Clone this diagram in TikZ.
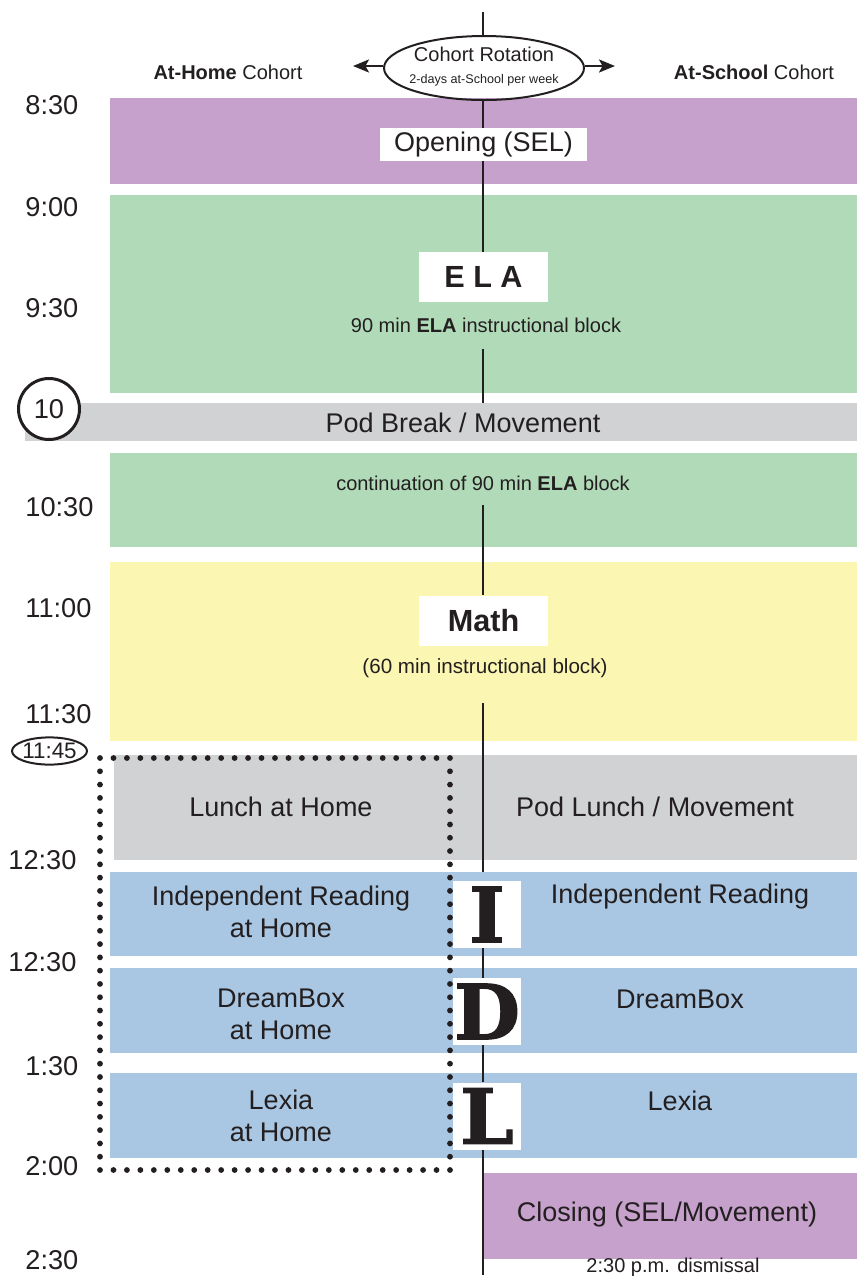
\documentclass[tikz,border=0pt]{standalone}
\usepackage{fontspec}
\setmainfont{Liberation Sans}
\newfontfamily\slabfont[BoldFeatures={FakeBold=1.6}]{DejaVu Serif}
\usetikzlibrary{arrows.meta, shapes.geometric}
\definecolor{selColor}{HTML}{C6A1CC}
\definecolor{elaColor}{HTML}{B0DAB8}
\definecolor{breakColor}{HTML}{D1D2D4}
\definecolor{mathColor}{HTML}{FBF6B2}
\definecolor{idlColor}{HTML}{A9C7E3}
\definecolor{inkColor}{HTML}{231F20}

\begin{document}
\begin{tikzpicture}[x=0.5pt, y=-0.5pt, inkColor, >={Stealth[length=8pt, width=6.5pt, inset=1.8pt]},
	lbl/.style={font=\fontsize{13.5}{16}\selectfont, inner sep=0pt, align=center},
	sublbl/.style={font=\fontsize{10}{12}\selectfont, inner sep=0pt},
	timelbl/.style={font=\fontsize{13.6}{16}\selectfont, inner sep=0pt, anchor=west},
	headlbl/.style={font=\fontsize{10}{11}\selectfont, inner sep=0pt},
	whitebox/.style={fill=white, inner sep=0pt, minimum width=64.5pt, minimum height=25pt, font=\bfseries\fontsize{15.3}{17}\selectfont},
	letterbox/.style={fill=white, inner sep=0pt, minimum width=34pt, minimum height=33.5pt, font=\slabfont\bfseries\fontsize{38}{38}\selectfont},
	spine/.style={line width=1.2pt},
	dot/.style={fill=inkColor}
	]
	
	% --- frame ---
	\useasboundingbox (0,0) rectangle (857,1276);
	
	% --- time bands ---
	\foreach \band/\bandcol/\xa/\ya/\yb in {
		opening/selColor/110/98/184,
		ela/elaColor/110/195/393,
		podbreak/breakColor/25/403/441,
		elacont/elaColor/110/453/547,
		math/mathColor/110/562/741,
		lunch/breakColor/114/755/860,
		iread/idlColor/110/872/956,
		dream/idlColor/110/968/1053,
		lexia/idlColor/110/1073/1158,
		closing/selColor/484/1173/1259
	} {
		\fill[\bandcol] (\xa,\ya) coordinate (\band-nw) rectangle (857,\yb);
	}
	
	% --- header ---
	\node[headlbl] (homehead) at (228,72) {\textbf{At-Home} Cohort};
	\node[headlbl] (schoolhead) at (754,72) {\textbf{At-School} Cohort};
	\node[ellipse, draw, line width=1pt, minimum width=100pt, minimum height=32pt, inner sep=0pt] (rot) at (484,68) {};
	\node[inner sep=0pt, align=center] (rottxt) at (484,67) {{\fontsize{10}{11.5}\selectfont Cohort Rotation}\\[-1pt]{\fontsize{6.3}{7.5}\selectfont 2-days at-School per week}};
	\coordinate (rotleft) at (353,66);
	\coordinate (rotright) at (615,66);
	\draw[->, line width=1.2pt] (rot.west |- rotleft) -- (rotleft);
	\draw[->, line width=1.2pt] (rot.east |- rotright) -- (rotright);
	
	% --- times ---
	\foreach \t/\tx/\ty in {8:30/25/105, 9:00/25/207, 9:30/25/308, 10:30/25/507, 11:00/25/608,
		11:30/25/714, 12:30/8/860, 12:30/8/962, 1:30/25/1066, 2:00/25/1166, 2:30/25/1260} {
		\node[timelbl] at (\tx,\ty) {\t};
	}
	
	% --- block labels ---
	\node[lbl, fill=white, minimum width=103.5pt, minimum height=16.5pt] (openlbl) at (483.5,144.5) {Opening (SEL)};
	\node[whitebox] (elabox) at (483.5,277) {E L A};
	\node[sublbl, minimum height=23.5pt] (elasub) at (486,325) {90 min \textbf{ELA} instructional block};
	\node[lbl] (breaklbl) at (463,423) {Pod Break / Movement};
	\node[sublbl, minimum height=22pt] (contsub) at (483,483) {continuation of 90 min \textbf{ELA} block};
	\node[whitebox] (mathbox) at (483.5,620.5) {Math};
	\node[sublbl, font=\fontsize{10.3}{12}\selectfont, minimum height=35pt] (mathsub) at (485,668) {(60 min instructional block)};
	\node[lbl] (lunchhome) at (281,807) {Lunch at Home};
	\node[lbl] (lunchpod) at (655,807) {Pod Lunch / Movement};
	\node[lbl] (readhome) at (281,912) {Independent Reading\\at Home};
	\node[lbl] (readpod) at (680,897) {Independent Reading};
	\node[lbl] (dreamhome) at (281,1014) {DreamBox\\at Home};
	\node[lbl] (dreampod) at (680,999) {DreamBox};
	\node[lbl] (lexiahome) at (281,1116) {Lexia\\at Home};
	\node[lbl] (lexiapod) at (680,1101) {Lexia};
	\node[lbl] (closinglbl) at (667,1215) {Closing (SEL/Movement)};
	\node[sublbl] (dismissal) at (673,1267) {2:30 p.m. dismissal};
	
	% --- I D L ---
	\node[letterbox] (ibox) at (487,914.5) {I};
	\node[letterbox] (dbox) at (487,1011.5) {D};
	\node[letterbox] (lbox) at (487,1116) {L};
	
	% --- spine ---
	\coordinate (spinetop) at (483,12);
	\coordinate (spinebot) at (483,1275);
	\draw[spine] (spinetop) -- (spinetop |- rot.north);
	\draw[spine] (spinetop |- rot.south) -- (spinetop |- openlbl.north);
	\draw[spine] (spinetop |- openlbl.south) -- (spinetop |- elabox.north);
	\draw[spine] (spinetop |- elasub.south) -- (spinetop |- podbreak-nw);
	\draw[spine] (spinetop |- contsub.south) -- (spinetop |- mathbox.north);
	\draw[spine] (spinetop |- mathsub.south) -- (spinetop |- iread-nw);
	\draw[spine] (spinetop |- ibox.south) -- (spinetop |- dbox.north);
	\draw[spine] (spinetop |- dbox.south) -- (spinetop |- lbox.north);
	\draw[spine] (spinetop |- lbox.south) -- (spinebot);
	
	% --- at-home group (dotted frame) ---
	\foreach \i in {0,...,26} {
		\fill[dot] (100+\i*13.4615,758) circle (1.45pt);
		\fill[dot] (100+\i*13.4615,1170) circle (1.45pt);
	}
	\foreach \i in {1,...,30} {
		\fill[dot] (100,758+\i*13.29) circle (1.45pt);
		\fill[dot] (450,758+\i*13.29) circle (1.45pt);
	}
	
	% --- marked times ---
	\node[circle, draw, fill=white, line width=1.5pt, minimum size=30.5pt, inner sep=0pt, font=\fontsize{13.6}{16}\selectfont] (tten) at (49,409) {10};
	\node[inner sep=0pt, font=\fontsize{11.2}{13}\selectfont] (televenfortyfive) at (49.5,751) {11:45};
	\draw[line width=1pt] (televenfortyfive) ellipse [x radius=18.75pt, y radius=6.8pt];
	
\end{tikzpicture}
\end{document}
